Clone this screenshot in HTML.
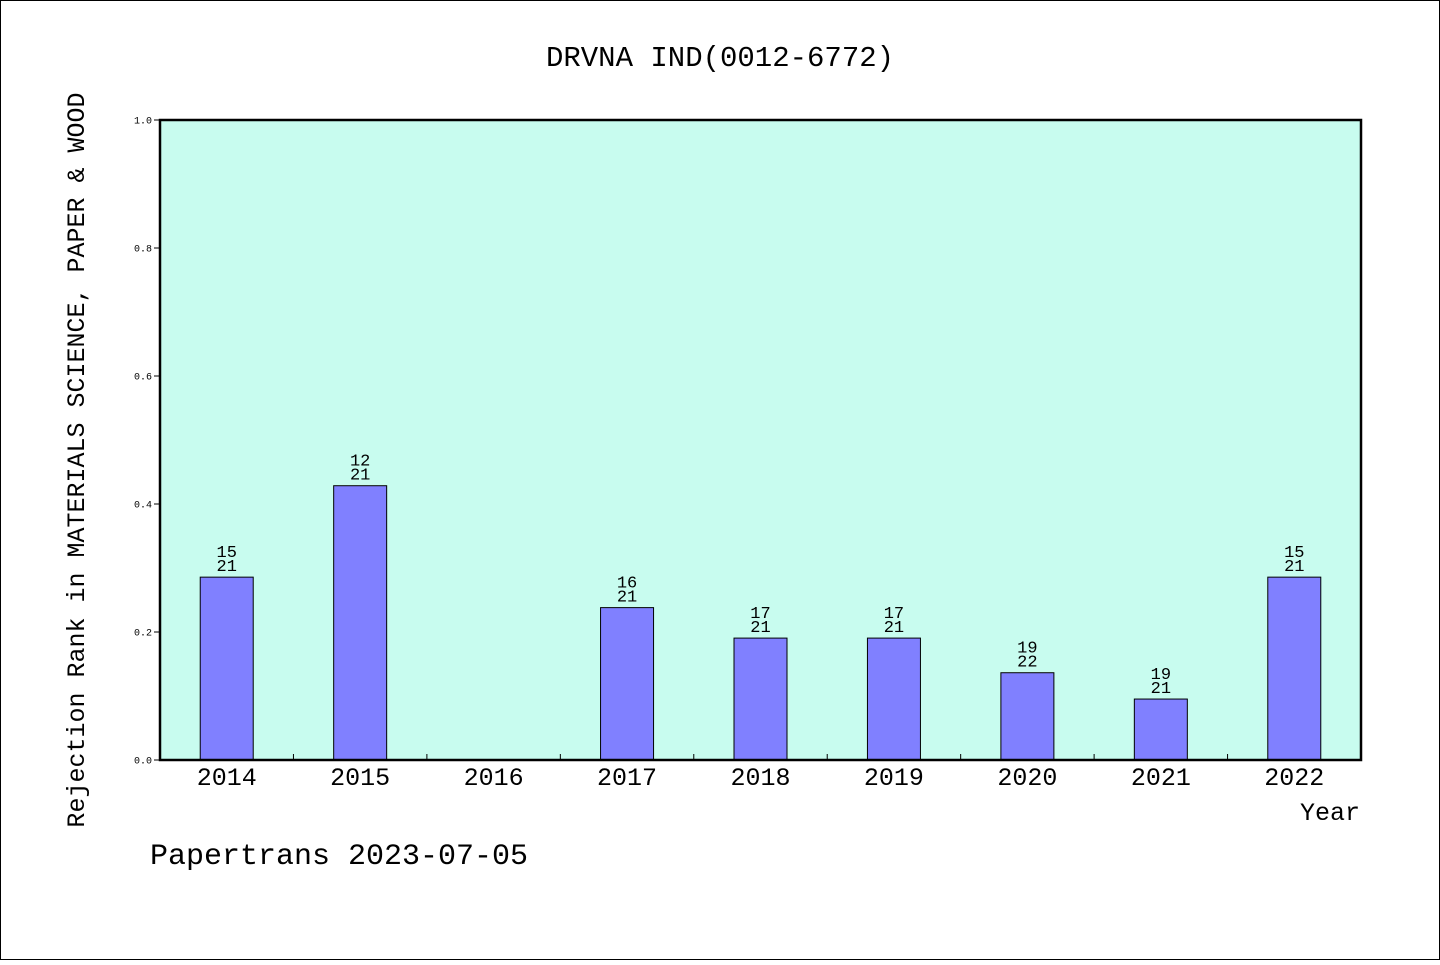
<!DOCTYPE html>
<html><head><meta charset="utf-8"><style>
body{margin:0;background:#fff}
svg text{font-family:"Liberation Mono","WenQuanYi Zen Hei",monospace;fill:#000}
</style></head><body>
<svg width="1440" height="960" xmlns="http://www.w3.org/2000/svg">
<rect x="0.5" y="0.5" width="1439" height="959" fill="#fff" stroke="#000"/>
<text x="720" y="66" font-size="29" text-anchor="middle">DRVNA IND(0012-6772)</text>
<rect x="160" y="120" width="1201" height="640" fill="#c8fcef"/>
<g id="bars"></g>
<rect x="160" y="120" width="1201" height="640" fill="none" stroke="#000" stroke-width="2.5"/>
<g id="axes"></g>
<text x="1360" y="820" font-size="25" text-anchor="end">Year</text>
<text transform="translate(84,460) rotate(-90)" font-size="25" text-anchor="middle">Rejection Rank in MATERIALS SCIENCE, PAPER &amp; WOOD</text>
<text x="150" y="864" font-size="30">Papertrans 2023-07-05</text>
</svg>
<script>
const categories=["2014","2015","2016","2017","2018","2019","2020","2021","2022"];
const ranks=[15,12,null,16,17,17,19,19,15];
const totals=[21,21,null,21,21,21,22,21,21];
const yTicks=["0.0","0.2","0.4","0.6","0.8","1.0"];
const NS="http://www.w3.org/2000/svg";
const X0=160,W=1201,Y0=760,H=640,n=categories.length,step=W/n,bw=53;
const xs=i=>X0+step*(i+0.5);
const ys=v=>Y0-v*H;
function mk(t,a,p){const e=document.createElementNS(NS,t);for(const k in a)e.setAttribute(k,a[k]);p.appendChild(e);return e;}
const bars=document.getElementById('bars'),axes=document.getElementById('axes');
categories.forEach((c,i)=>{
  if(ranks[i]!=null){
    const v=(totals[i]-ranks[i])/totals[i];
    const r=mk('rect',{x:xs(i)-bw/2,y:ys(v),width:bw,height:Y0-ys(v),fill:'#8080ff',stroke:'#000','stroke-width':1},bars);
    
    
    const t1=mk('text',{x:xs(i),y:ys(v)-20,'font-size':17,'text-anchor':'middle'},bars);t1.textContent=ranks[i];
    
    
    const t2=mk('text',{x:xs(i),y:ys(v)-6,'font-size':17,'text-anchor':'middle'},bars);t2.textContent=totals[i];
    
    
  }
  const t=mk('text',{x:xs(i),y:785,'font-size':25,'text-anchor':'middle'},axes);t.textContent=c;
  
  
  if(i>0){const l=mk('line',{x1:X0+step*i,x2:X0+step*i,y1:Y0,y2:Y0-6,stroke:'#000'},axes);
  
  }
});
yTicks.forEach(s=>{
  const v=parseFloat(s),y=ys(v);
  const l=mk('line',{x1:X0-6,x2:X0,y1:y,y2:y,stroke:'#000'},axes);
  
  
  const t=mk('text',{x:X0-8,y:y+3.5,'font-size':10,'text-anchor':'end'},axes);t.textContent=s;
  
  
});
</script>
</body></html>
